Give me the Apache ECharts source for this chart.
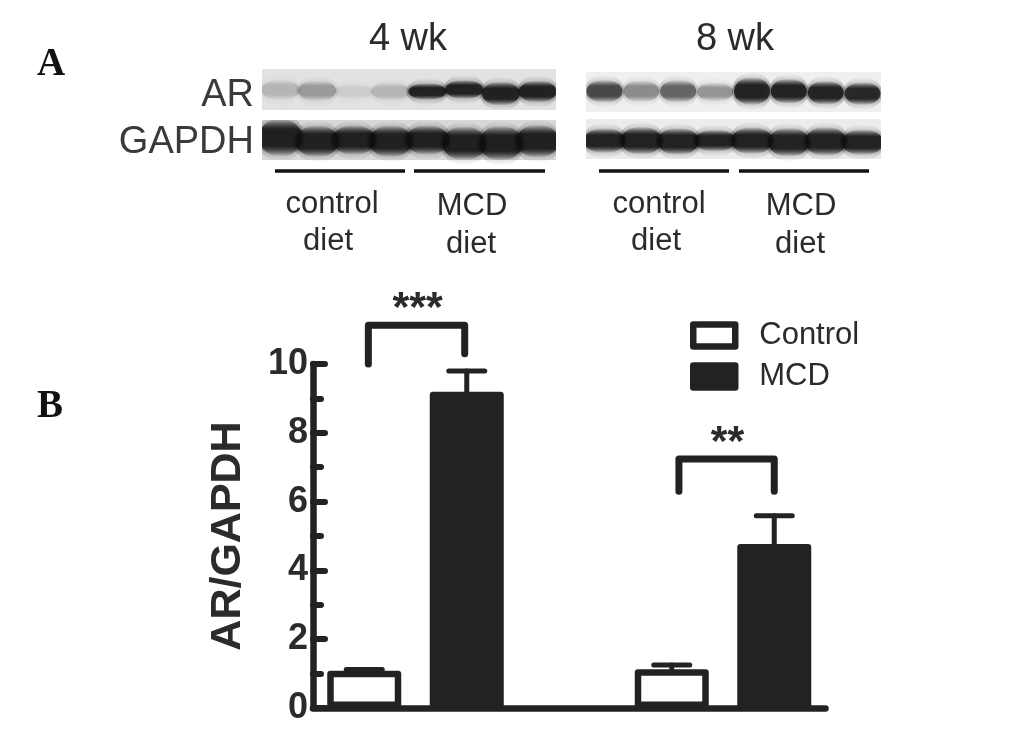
<!DOCTYPE html>
<html>
<head>
<meta charset="utf-8">
<style>html,body{margin:0;padding:0;background:#fff}#c{width:1033px;height:733px}</style>
<script src="https://cdn.jsdelivr.net/npm/echarts@6/dist/echarts.min.js"></script>
</head>
<body>
<div id="c"></div>
<script>
// Densitometry (panel B)
const categories = ['4wk Control', '4wk MCD', '', '8wk Control', '8wk MCD'];
const controlValues = [1.08, null, null, 1.13, null];
const mcdValues = [null, 9.19, null, null, 4.77];
const errorTops = [1.12, 9.8, null, 1.25, 5.59];
const yTicks = [0, 2, 4, 6, 8, 10];
// Significance brackets: [left place, right place, left foot, right foot, top, stars]
const bracketLeft = [0.04, 3.07];
const bracketRight = [0.98, 4.0];
const bracketLeftFoot = [10.0, 6.3];
const bracketRightFoot = [10.3, 6.3];
const bracketTop = [11.13, 7.24];
const bracketStars = ['***', '**'];
// Western blot bands (panel A): per lane darkness, vertical place (0-1), thickness
const lanes = ['1', '2', '3', '4', '5', '6', '7', '8'];
const ar4Dark = [0.2, 0.32, 0.1, 0.2, 1, 1, 1, 1];
const ar4Pos = [0.49, 0.47, 0.45, 0.45, 0.45, 0.50, 0.40, 0.45];
const ar4Thick = [13, 13, 8, 11, 9, 11, 16, 14];
const gapdh4Dark = [1, 1, 1, 1, 1, 1, 1, 1];
const gapdh4Pos = [0.56, 0.47, 0.5, 0.47, 0.5, 0.42, 0.42, 0.47];
const gapdh4Thick = [30, 24, 22, 24, 22, 26, 27, 25];
const ar8Dark = [0.75, 0.42, 0.6, 0.38, 1, 1, 1, 0.96];
const ar8Pos = [0.52, 0.52, 0.52, 0.5, 0.52, 0.52, 0.48, 0.46];
const ar8Thick = [15, 14, 15, 11, 20, 17, 16, 15];
const gapdh8Dark = [1, 1, 1, 1, 1, 1, 1, 1];
const gapdh8Pos = [0.46, 0.46, 0.44, 0.46, 0.46, 0.42, 0.44, 0.42];
const gapdh8Thick = [17, 20, 19, 14, 19, 21, 21, 18];

const INK = '#222222';
const TEXT = '#2b2b2b';
const SANS = '"Liberation Sans", Arial, sans-serif';
const SERIF = '"Liberation Serif", "Times New Roman", serif';

const blots = [
  { dark: ar4Dark, pos: ar4Pos, thick: ar4Thick, left: 262, top: 69, width: 294, height: 41, bg: '#e2e2e2', laneW: 38 },
  { dark: gapdh4Dark, pos: gapdh4Pos, thick: gapdh4Thick, left: 262, top: 120, width: 294, height: 40, bg: '#d8d8d8', laneW: 44 },
  { dark: ar8Dark, pos: ar8Pos, thick: ar8Thick, left: 586, top: 72, width: 295, height: 40, bg: '#efefef', laneW: 36 },
  { dark: gapdh8Dark, pos: gapdh8Pos, thick: gapdh8Thick, left: 586, top: 119, width: 295, height: 40, bg: '#ececec', laneW: 42 }
];

const grids = [{ left: 313, top: 364, width: 512.5, height: 344, containLabel: false }];
const xAxes = [{
  type: 'category', gridIndex: 0, data: categories,
  axisLine: { lineStyle: { color: INK, width: 6.5, cap: 'round' } },
  axisTick: { show: false }, axisLabel: { show: false }
}];
const yAxes = [{
  type: 'value', gridIndex: 0, min: yTicks[0], max: yTicks[yTicks.length - 1], interval: 2,
  name: 'AR/GAPDH', nameLocation: 'middle', nameGap: 63, nameRotate: 90,
  nameTextStyle: { color: TEXT, fontFamily: SANS, fontWeight: 'bold', fontSize: 43 },
  axisLine: { show: true, onZero: false, lineStyle: { color: INK, width: 6.5, cap: 'round' } },
  axisTick: { show: true, inside: true, length: 12, lineStyle: { color: INK, width: 6, cap: 'round' } },
  minorTick: { show: true, splitNumber: 2, length: 8, lineStyle: { color: INK, width: 6, cap: 'round' } },
  splitLine: { show: false },
  axisLabel: { color: TEXT, fontFamily: SANS, fontWeight: 'bold', fontSize: 36, margin: 5 }
}];

const bandFill = (a) => ({
  type: 'linear', x: 0, y: 0, x2: 0, y2: 1,
  colorStops: [
    { offset: 0, color: 'rgba(14,14,14,0)' },
    { offset: 0.28, color: 'rgba(14,14,14,' + a + ')' },
    { offset: 0.72, color: 'rgba(14,14,14,' + a + ')' },
    { offset: 1, color: 'rgba(14,14,14,0)' }
  ]
});

const blotSeries = [];
blots.forEach((b, i) => {
  grids.push({ left: b.left, top: b.top, width: b.width, height: b.height, show: true, backgroundColor: b.bg, borderWidth: 0 });
  xAxes.push({ type: 'category', gridIndex: i + 1, data: lanes, show: false });
  yAxes.push({ type: 'value', gridIndex: i + 1, min: 0, max: 1, show: false });
  // wide soft haze round each band
  blotSeries.push({
    type: 'scatter', xAxisIndex: i + 1, yAxisIndex: i + 1, clip: true, silent: true, z: 3,
    symbol: 'circle', symbolSize: (v) => [b.laneW + 4, v[3] + 18],
    data: b.dark.map((d, k) => ({
      value: [k, b.pos[k], d, b.thick[k]],
      itemStyle: { color: bandFill(d * 0.28), shadowBlur: 6, shadowColor: 'rgba(14,14,14,' + (d * 0.1) + ')' }
    }))
  });
  // the dark band core
  blotSeries.push({
    type: 'scatter', xAxisIndex: i + 1, yAxisIndex: i + 1, clip: true, silent: true, z: 4,
    symbol: 'circle', symbolSize: (v) => [b.laneW, v[3] + 8],
    data: b.dark.map((d, k) => ({
      value: [k, b.pos[k], d, b.thick[k]],
      itemStyle: { color: bandFill(d), shadowBlur: 4, shadowColor: 'rgba(14,14,14,' + (d * 0.5) + ')' }
    }))
  });
});

// hidden linear axis for the brackets, so they can sit between bar centres
xAxes.push({ type: 'value', gridIndex: 0, min: -0.5, max: 4.5, show: false });
const bracketAxis = xAxes.length - 1;

const barStyle = (fill) => ({ color: fill, borderColor: INK, borderWidth: 6.5, borderJoin: 'round' });

const series = [
  {
    name: 'Control', type: 'bar', xAxisIndex: 0, yAxisIndex: 0, data: controlValues,
    barWidth: 74, barGap: '-100%', itemStyle: barStyle('#ffffff'), z: 3
  },
  {
    name: 'MCD', type: 'bar', xAxisIndex: 0, yAxisIndex: 0, data: mcdValues,
    barWidth: 74, barGap: '-100%', itemStyle: barStyle(INK), z: 3
  },
  {
    type: 'custom', xAxisIndex: 0, yAxisIndex: 0, z: 2, silent: true,
    data: categories.map((c, i) => [i, (controlValues[i] ?? mcdValues[i]), errorTops[i]]).filter(d => d[2] != null),
    renderItem: (params, api) => {
      const base = api.coord([api.value(0), api.value(1)]);
      const top = api.coord([api.value(0), api.value(2)]);
      const style = { stroke: INK, lineWidth: 5, lineCap: 'round' };
      return { type: 'group', children: [
        { type: 'line', shape: { x1: base[0], y1: base[1], x2: top[0], y2: top[1] }, style },
        { type: 'line', shape: { x1: top[0] - 18, y1: top[1], x2: top[0] + 18, y2: top[1] }, style }
      ] };
    }
  },
  {
    type: 'custom', xAxisIndex: bracketAxis, yAxisIndex: 0, z: 4, silent: true, clip: false,
    data: bracketLeft.map((l, i) => [l, bracketRight[i], bracketLeftFoot[i], bracketRightFoot[i], bracketTop[i], i]),
    encode: { x: [0, 1], y: [2, 3, 4] },
    renderItem: (params, api) => {
      const a = api.coord([api.value(0), api.value(2)]);
      const b = api.coord([api.value(0), api.value(4)]);
      const c = api.coord([api.value(1), api.value(4)]);
      const d = api.coord([api.value(1), api.value(3)]);
      return { type: 'group', children: [
        { type: 'polyline', shape: { points: [a, b, c, d] },
          style: { stroke: INK, lineWidth: 7, lineCap: 'round', lineJoin: 'round', fill: 'none' } },
        { type: 'text', x: (b[0] + c[0]) / 2 + 1, y: b[1] + 6,
          style: { text: bracketStars[api.value(5)], fill: TEXT, font: 'bold 43px ' + SANS, align: 'center', verticalAlign: 'bottom' } }
      ] };
    }
  }
].concat(blotSeries);

const txt = (text, x, y, size, opt) => ({
  type: 'text', x, y, silent: true, z: 60,
  style: Object.assign({ text, fill: TEXT, font: size + 'px ' + SANS, align: 'center', verticalAlign: 'middle' }, opt || {})
});
const rule = (x1, x2) => ({
  type: 'line', silent: true, shape: { x1, y1: 171, x2, y2: 171 }, style: { stroke: '#111', lineWidth: 3.5 }
});
// white margins that trim the bands at the membrane edges
const trim = (x, width, y, height) => ({
  type: 'rect', silent: true, z: 50, shape: { x, y, width, height }, style: { fill: '#fff' }
});

const graphic = [
  trim(250, 12, 60, 110), trim(556, 30, 60, 110), trim(881, 12, 60, 110),
  trim(250, 310, 110, 10), trim(586, 295, 112, 7),
  txt('A', 51, 65, 39, { font: 'bold 39px ' + SERIF, fill: '#111' }),
  txt('B', 50, 407, 39, { font: 'bold 39px ' + SERIF, fill: '#111' }),
  txt('4 wk', 408, 40, 38),
  txt('8 wk', 735, 40, 38),
  txt('AR', 254, 96, 38, { align: 'right', fill: '#3a3a3a' }),
  txt('GAPDH', 254, 143, 38, { align: 'right', fill: '#3a3a3a' }),
  rule(275, 405), rule(414, 545), rule(599, 729), rule(739, 869),
  txt('control', 332, 204, 31), txt('diet', 328, 241, 31),
  txt('MCD', 472, 206, 31), txt('diet', 471, 244, 31),
  txt('control', 659, 204, 31), txt('diet', 656, 241, 31),
  txt('MCD', 801, 206, 31), txt('diet', 800, 244, 31)
];

const chart = echarts.init(document.getElementById('c'), null, { renderer: 'canvas' });
chart.setOption({
  animation: false,
  backgroundColor: '#ffffff',
  grid: grids, xAxis: xAxes, yAxis: yAxes,
  legend: {
    left: 685, top: 315, orient: 'vertical', itemWidth: 42, itemHeight: 22, itemGap: 10,
    icon: 'rect', selectedMode: false,
    textStyle: { color: TEXT, fontFamily: SANS, fontSize: 31, padding: [0, 0, 0, 19] },
    data: [
      { name: 'Control', itemStyle: { color: '#fff', borderColor: INK, borderWidth: 6.5 } },
      { name: 'MCD', itemStyle: { color: INK, borderColor: INK, borderWidth: 6.5 } }
    ]
  },
  series, graphic
});
</script>
</body>
</html>
